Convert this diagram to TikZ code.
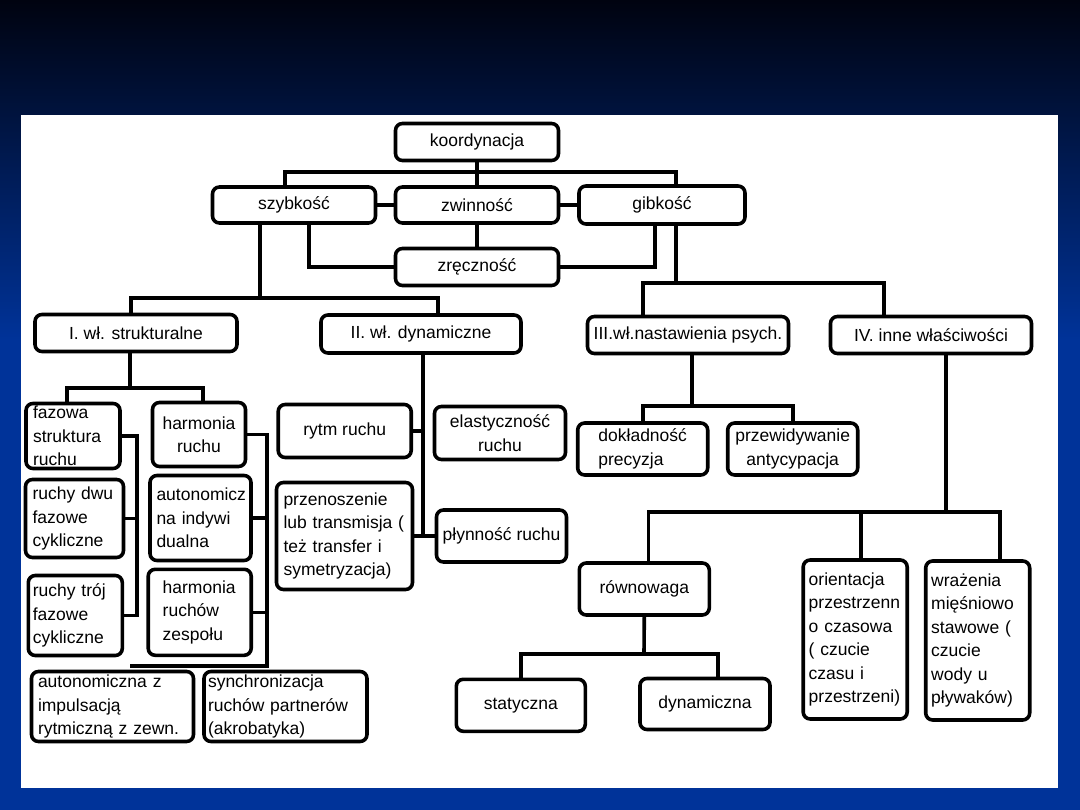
\documentclass[tikz,border=0pt]{standalone}
\usepackage{fontspec}
\setmainfont{Liberation Sans}
\usetikzlibrary{positioning,calc}
\definecolor{slidetop}{RGB}{0,3,16}
\definecolor{slideblue}{RGB}{0,51,153}
\hyphenpenalty=10000

\begin{document}
\begin{tikzpicture}[x=1pt, y=-1pt,
    cecha/.style={draw=black, line width=3.6pt, rounded corners=7pt,
                  fill=white, font=\fontsize{17.5}{23.5}\selectfont,
                  inner xsep=4pt, inner ysep=1pt},
    sz/.style 2 args={minimum width=#1pt, minimum height=#2pt},
    lft/.style={align=left, text width=#1pt},
    conn/.style={draw=black, line width=3.6pt},
  ]
  %% Slide background
  \fill[slideblue] (0,0) rectangle (1080,810);
  \shade[top color=slidetop, bottom color=slideblue] (0,0) rectangle (1080,340);
  \fill[white] (21,115) rectangle (1058,788);
  \useasboundingbox (0,0) rectangle (1080,810);
  %% Top level
  \node[cecha, sz={163}{37}] (koord) at (477,142) {koordynacja};
  \node[cecha, sz={163}{36}] (szyb)  at (294,205) {szybkość};
  \node[cecha, sz={163}{36}] (zwin)  at (477,205) {zwinność};
  \node[cecha, sz={166}{38}] (gib)   at (662,205) {gibkość};
  \node[cecha, sz={163}{37}] (zrecz) at (477,267) {zręczność};
  %% Groups I--IV
  \node[cecha, sz={202}{37}] (strukt) at (136,333) {I. wł. strukturalne};
  \node[cecha, sz={200}{38}] (dynam)  at (421,334) {II. wł. dynamiczne};
  \node[cecha, sz={201}{37}, inner xsep=1pt] (psych) at (688,335)
        {III.wł.nastawienia psych.};
  \node[cecha, sz={201}{37}] (inne)   at (931,335) {IV. inne właściwości};
  %% I. structural
  \node[cecha, sz={94}{65}, lft=80]  (fazowa) at (73,436)    {fazowa\\struktura\\ruchu};
  \node[cecha, sz={98}{78}, lft=84]  (dwu)    at (74.5,518.5) {ruchy dwu\\fazowe\\cykliczne};
  \node[cecha, sz={94}{80}, lft=85]  (troj)   at (75.3,615.5) {ruchy trój\\fazowe\\cykliczne};
  \node[cecha, sz={93}{64}, align=center] (harm) at (199,434.5) {harmonia\\ruchu};
  \node[cecha, sz={101}{85}, lft=88] (indyw)  at (200.5,518)  {autonomicz\\na indywi\\dualna};
  \node[cecha, sz={103}{86}, lft=74] (zesp)   at (199.7,612.3) {harmonia\\ruchów\\zespołu};
  \node[cecha, sz={162}{70}, lft=149] (autoimp) at (112.5,706.5)
        {autonomiczna z\\impulsacją\\rytmiczną z zewn.};
  \node[cecha, sz={163}{70}, lft=155] (sync)    at (285.5,706.5)
        {synchronizacja\\ruchów partnerów\\(akrobatyka)};
  %% II. dynamic
  \node[cecha, sz={133}{53}] (rytm)  at (344.7,431) {rytm ruchu};
  \node[cecha, sz={131}{53}, align=center] (elast) at (500,433) {elastyczność\\ruchu};
  \node[cecha, sz={136}{107}, lft=122] (przen) at (344.5,536)
        {przenoszenie\\lub transmisja (\\też transfer i\\symetryzacja)};
  \node[cecha, sz={130}{52}] (plyn)  at (501.5,536) {płynność ruchu};
  %% III. psychological
  \node[cecha, sz={130}{52}, align=left]   (dokl)  at (642.7,449) {dokładność\\precyzja};
  \node[cecha, sz={130}{52}, align=center] (przew) at (792.7,449) {przewidywanie\\antycypacja};
  %% IV. other
  \node[cecha, sz={130}{52}] (rown) at (644.3,589)   {równowaga};
  \node[cecha, sz={129}{52}] (stat) at (520.8,705.3) {statyczna};
  \node[cecha, sz={130}{51}] (dyn)  at (705,704)     {dynamiczna};
  \node[cecha, sz={104}{159}, lft=93] (orient) at (855.2,639.5)
        {orientacja\\przestrzenn\\o czasowa\\( czucie\\czasu i\\przestrzeni)};
  \node[cecha, sz={104}{159}, lft=93] (wraz)   at (977.7,640.5)
        {wrażenia\\mięśniowo\\stawowe (\\czucie\\wody u\\pływaków)};
  %% Connectors, top level
  \coordinate (bus0) at (477,172);
  \draw[conn] ([xshift=-9pt]szyb.north) |- (bus0) -| ([xshift=14pt]gib.north);
  \draw[conn] (koord) -- (zwin);
  \draw[conn] (szyb) -- (zwin);
  \draw[conn] (zwin) -- (gib);
  \draw[conn] (zwin) -- (zrecz);
  \draw[conn] ([xshift=15pt]szyb.south) |- (zrecz.west);
  \draw[conn] ([xshift=-7pt]gib.south) |- (zrecz.east);
  %% szybkosc -> I, II
  \coordinate (bus1) at (260,298);
  \draw[conn] ([xshift=-34pt]szyb.south) -- (bus1);
  \draw[conn] ([xshift=-5pt]strukt.north) |- (bus1) -| ([xshift=17pt]dynam.north);
  %% gibkosc -> III, IV
  \coordinate (bus2) at (676,283);
  \draw[conn] ([xshift=14pt]gib.south) -- (bus2);
  \draw[conn] ([xshift=-45pt]psych.north) |- (bus2) -| ([xshift=-47pt]inne.north);
  %% III
  \coordinate (bus3) at (692,406);
  \draw[conn] ([xshift=4pt]psych.south) -- (bus3);
  \draw[conn] (dokl.north) |- (bus3) -| (przew.north);
  %% IV
  \coordinate (bus5) at (946,512);
  \draw[conn] ([xshift=15pt]inne.south) -- (bus5);
  \draw[conn] ([xshift=4pt]rown.north) |- (bus5) -| ([xshift=22pt]wraz.north);
  \draw[conn] ([xshift=6pt]orient.north) -- ([xshift=6pt]orient.north |- bus5);
  \coordinate (bus6) at (644,654);
  \draw[conn] (rown.south) -- (bus6);
  \draw[conn] (stat.north) |- (bus6) -| ([xshift=13pt]dyn.north);
  %% I
  \coordinate (bus7) at (130,388);
  \draw[conn] ([xshift=-6pt]strukt.south) -- (bus7);
  \draw[conn] ([xshift=-6pt]fazowa.north) |- (bus7) -| ([xshift=4pt]harm.north);
  \coordinate (spL) at (137,615.5);
  \draw[conn] (fazowa.east) -| (spL) -- (troj.east);
  \draw[conn] (dwu.east) -- (dwu.east -| spL);
  \coordinate (spR) at (267,666);
  \coordinate (bus4) at (130,666);
  \draw[conn] (harm.east) -| (spR) -- (bus4);
  \draw[conn] (indyw.east) -- (indyw.east -| spR);
  \draw[conn] (zesp.east) -- (zesp.east -| spR);
  %% II
  \coordinate (spM) at (423,536);
  \draw[conn] ([xshift=2pt]dynam.south) -- (spM);
  \draw[conn] (rytm.east) -- (rytm.east -| spM);
  \draw[conn] (przen.east) -- (plyn.west);
\end{tikzpicture}
\end{document}
